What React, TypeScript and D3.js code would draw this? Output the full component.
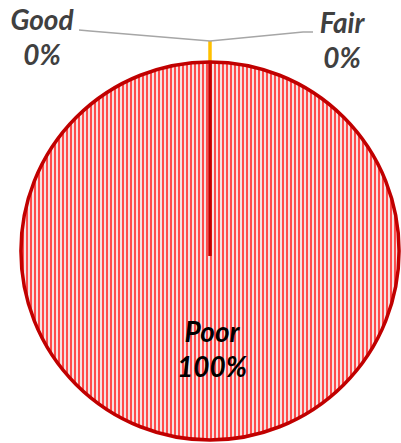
import React, { useEffect, useRef } from 'react';
import * as d3 from 'd3';

const categories = ['Good', 'Fair', 'Poor'];
const values = [0, 0, 100];
const sliceColors = ['#A6A6A6', '#FFC000', '#C00000'];

const App: React.FC = () => {
  const svgRef = useRef<SVGSVGElement>(null);

  useEffect(() => {
    if (!svgRef.current) return;
    const width = 401;
    const height = 443;
    const cx = 210;
    const cy = 251;
    const r = 189;
    const explode = 21;

    const svg = d3.select(svgRef.current);
    svg.selectAll('*').remove();

    // narrow vertical stripes
    const defs = svg.append('defs');
    const pat = defs.append('pattern')
      .attr('id', 'stripes')
      .attr('patternUnits', 'userSpaceOnUse')
      .attr('width', 4)
      .attr('height', 4);
    pat.append('rect').attr('width', 4).attr('height', 4).attr('fill', '#F4E2E2');
    pat.append('rect').attr('width', 2).attr('height', 4).attr('fill', '#FF4B4B');

    const total = d3.sum(values);
    const pie = d3.pie<number>().sort(null).value(d => d);
    const arcs = pie(values);
    const arc = d3.arc<d3.PieArcDatum<number>>().innerRadius(0).outerRadius(r);

    const g = svg.append('g').attr('transform', `translate(${cx},${cy})`);

    const pt = (a: number, rad: number): [number, number] =>
      [Math.sin(a) * rad, -Math.cos(a) * rad];

    arcs.forEach((d, i) => {
      if (d.value > 0) {
        g.append('path')
          .attr('d', arc(d) as string)
          .attr('fill', 'url(#stripes)')
          .attr('stroke', sliceColors[i])
          .attr('stroke-width', 3.5);
        const [x0, y0] = pt(d.startAngle, r);
        g.append('line')
          .attr('x1', 0).attr('y1', 5)
          .attr('x2', x0).attr('y2', y0)
          .attr('stroke', sliceColors[i])
          .attr('stroke-width', 3.5);
      } else if (i === 1) {
        // exploded zero slice shows as a short edge outside the pie
        const [x0, y0] = pt(d.startAngle, r);
        const [x1, y1] = pt(d.startAngle, r + explode);
        g.append('line')
          .attr('x1', x0).attr('y1', y0)
          .attr('x2', x1).attr('y2', y1)
          .attr('stroke', sliceColors[i])
          .attr('stroke-width', 3.5);
      }
    });

    // leader lines for zero slices
    const [ax, ay] = pt(arcs[1].startAngle, r + explode);
    const leaders: [number, number][][] = [
      [[-131, -221], [-120, -220], [ax, ay]],
      [[103, -219], [93, -219], [ax, ay]],
    ];
    leaders.forEach(l => {
      g.append('path')
        .attr('d', d3.line()(l) as string)
        .attr('fill', 'none')
        .attr('stroke', '#A6A6A6')
        .attr('stroke-width', 1.5);
    });

    const font = 'Lato, "Open Sans", sans-serif';
    const labelPos: [number, number][] = [[-168, -221], [132, -218], [2, 91]];
    const labelColor = ['#404040', '#404040', '#000000'];
    arcs.forEach((d, i) => {
      const t = g.append('text')
        .attr('x', labelPos[i][0])
        .attr('y', labelPos[i][1])
        .attr('text-anchor', 'middle')
        .attr('font-family', font)
        .attr('font-size', 28)
        .attr('font-weight', 'bold')
        .attr('font-style', 'italic')
        .attr('fill', labelColor[i]);
      t.append('tspan').attr('x', labelPos[i][0]).text(categories[i]);
      t.append('tspan').attr('x', labelPos[i][0]).attr('dy', 35)
        .text(`${Math.round((d.value / total) * 100)}%`);
    });

    svg.attr('width', width).attr('height', height);
  }, []);

  return (
    <svg ref={svgRef} width={401} height={443}
      style={{ position: 'absolute', left: 0, top: 0, background: '#fff' }} />
  );
};

export default App;
